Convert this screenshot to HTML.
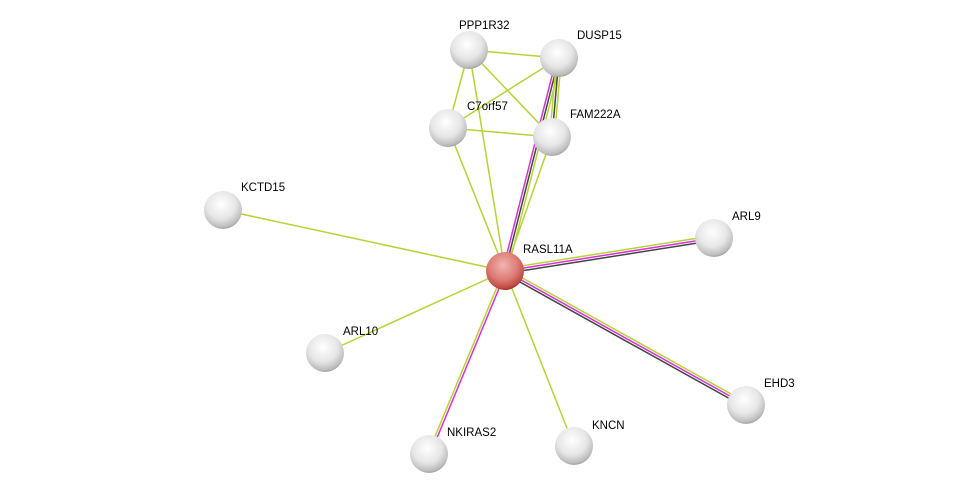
<!DOCTYPE html>
<html><head><meta charset="utf-8"><style>
html,body{margin:0;padding:0;background:#fff;width:976px;height:499px;overflow:hidden}
svg{display:block}
text{font-family:"Liberation Sans",Arial,sans-serif;font-size:11.5px;fill:#000}
</style></head><body>
<svg id="s" width="976" height="499" viewBox="0 0 976 499" xmlns="http://www.w3.org/2000/svg">
<defs>
<radialGradient id="g" cx="0.45" cy="0.35" r="0.7">
<stop offset="0" stop-color="#ffffff"/><stop offset="0.55" stop-color="#e6e6e6"/><stop offset="0.85" stop-color="#bdbdbd"/><stop offset="1" stop-color="#8a8a8a"/>
</radialGradient>
<radialGradient id="r" cx="0.45" cy="0.35" r="0.7">
<stop offset="0" stop-color="#f2b4b0"/><stop offset="0.55" stop-color="#dd7b74"/><stop offset="0.85" stop-color="#c04a44"/><stop offset="1" stop-color="#7e1e1a"/>
</radialGradient>
</defs>
<g id="edges"></g>
<g id="nodes"></g>
</svg>
<script>
var N={PPP1R32:[469,50],DUSP15:[559,58],C7orf57:[448,128],FAM222A:[552,137],KCTD15:[223,210],RASL11A:[505,271],ARL9:[714,238],ARL10:[325,353],EHD3:[746,405],NKIRAS2:[429,454],KNCN:[574,446]};
var G="#b5d334",M="#d930d9",K="#444";
var E=[["RASL11A","PPP1R32",[G]],["RASL11A","DUSP15",[M,K,G]],["RASL11A","C7orf57",[G]],["RASL11A","FAM222A",[G]],["RASL11A","KCTD15",[G]],["RASL11A","ARL9",[G,M,K]],["RASL11A","EHD3",[G,M,K]],["RASL11A","ARL10",[G]],["RASL11A","NKIRAS2",[M,G]],["RASL11A","KNCN",[G]],
["PPP1R32","DUSP15",[G]],["PPP1R32","C7orf57",[G]],["PPP1R32","FAM222A",[G]],["C7orf57","DUSP15",[G]],["C7orf57","FAM222A",[G]],["DUSP15","FAM222A",[G,K,G]]];
var ns="http://www.w3.org/2000/svg",eg=document.getElementById("edges"),ng=document.getElementById("nodes");
E.forEach(function(e){var a=N[e[0]],b=N[e[1]],dx=b[0]-a[0],dy=b[1]-a[1],L=Math.hypot(dx,dy),px=-dy/L,py=dx/L,n=e[2].length;
e[2].forEach(function(c,i){var o=(i-(n-1)/2)*2.4;var l=document.createElementNS(ns,"line");
l.setAttribute("x1",a[0]+px*o);l.setAttribute("y1",a[1]+py*o);l.setAttribute("x2",b[0]+px*o);l.setAttribute("y2",b[1]+py*o);
l.setAttribute("stroke",c);l.setAttribute("stroke-width",1.5);eg.appendChild(l);});});
var lab={PPP1R32:[-10,-25],DUSP15:[18,-23],C7orf57:[19,-22],FAM222A:[18,-23],KCTD15:[18,-23],RASL11A:[18,-22],ARL9:[18,-22],ARL10:[18,-22],EHD3:[18,-22],NKIRAS2:[18,-22],KNCN:[18,-21]};
for(var k in N){var p=N[k],c=document.createElementNS(ns,"circle");c.setAttribute("cx",p[0]);c.setAttribute("cy",p[1]);c.setAttribute("r",19);
c.setAttribute("fill",k=="RASL11A"?"url(#r)":"url(#g)");ng.appendChild(c);
var t=document.createElementNS(ns,"text");t.setAttribute("x",p[0]+lab[k][0]);t.setAttribute("y",p[1]+lab[k][1]+4);t.textContent=k;ng.appendChild(t);}
</script>
</body></html>
